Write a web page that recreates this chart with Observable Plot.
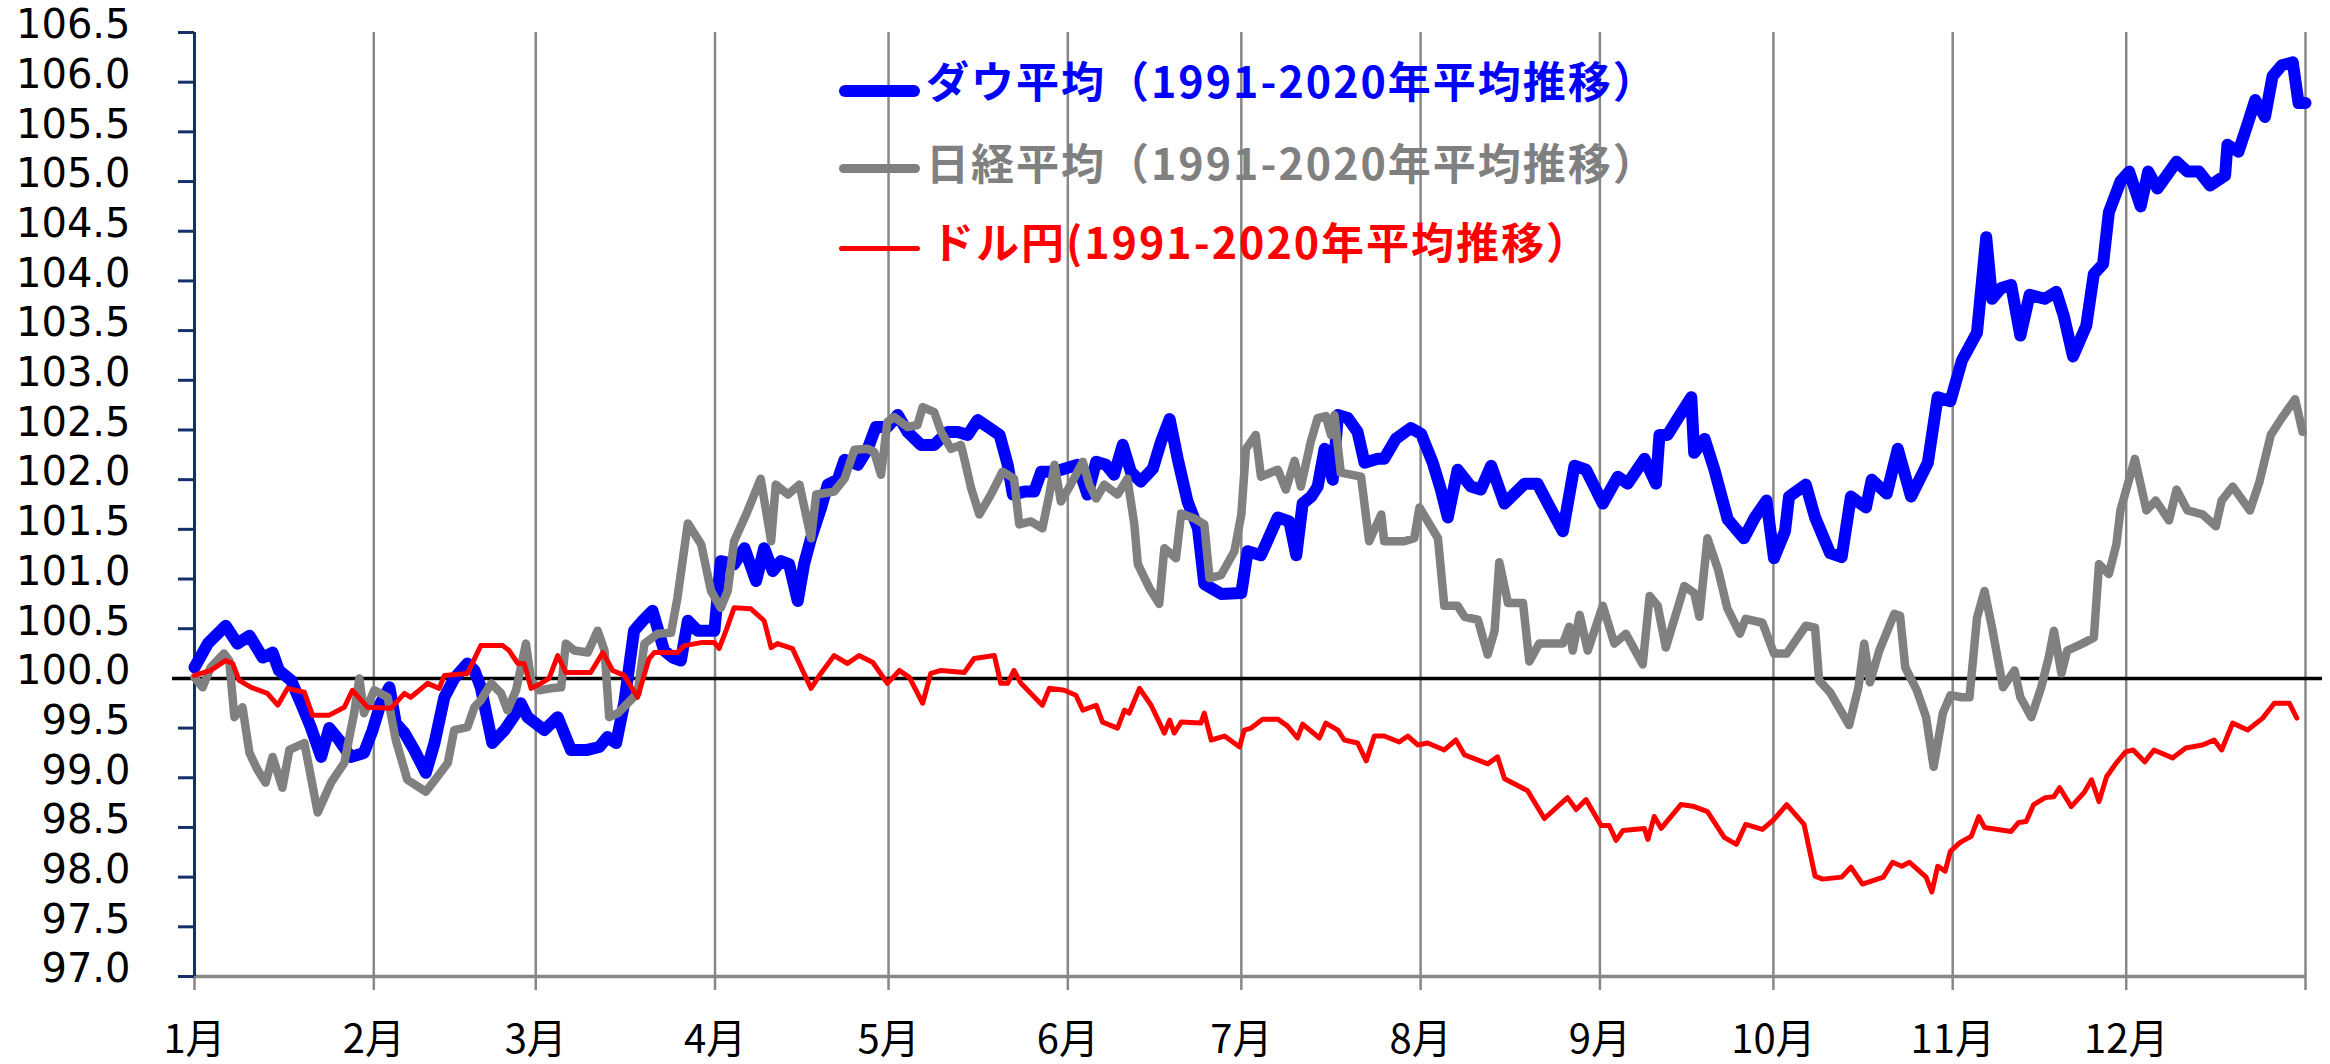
<!DOCTYPE html>
<html><head><meta charset="utf-8">
<script src="https://cdn.jsdelivr.net/npm/d3@7"></script>
<script src="https://cdn.jsdelivr.net/npm/@observablehq/plot@0.6"></script>
<style>
body{margin:0;background:#fff;}
#wrap{position:relative;width:2330px;height:1064px;overflow:hidden;background:#fff;}
.leg{position:absolute;font-family:"Noto Sans CJK JP";font-weight:bold;font-size:43px;line-height:43px;letter-spacing:2px;white-space:nowrap;}
.sw{position:absolute;border-radius:7px;}
</style></head><body>
<div id="wrap"></div>
<script>
// ---- data (x = days since 1 Jan, y = index, 1 Jan = 100) ----
const monthTicks = [0,31,59,90,120,151,181,212,243,273,304,334,365];
const monthLabels = ["1月","2月","3月","4月","5月","6月","7月","8月","9月","10月","11月","12月",""];
const yTicks = [97,97.5,98,98.5,99,99.5,100,100.5,101,101.5,102,102.5,103,103.5,104,104.5,105,105.5,106,106.5];
const seriesNames = ["ダウ平均（1991-2020年平均推移）","日経平均（1991-2020年平均推移）","ドル円(1991-2020年平均推移）"];
const seriesColors = ["#0000ff","#808080","#ff0000"];

const dowDays = [0,2.3,5.4,7.4,9.5,11.8,13.5,14.6,16.7,18.4,20.1,21.9,23.3,25.0,27.0,29.3,30.8,32.2,33.7,34.8,36.3,38.0,40.0,41.5,43.2,44.9,47.2,48.4,49.5,51.5,53.6,55.6,56.4,57.6,60.5,62.8,65.1,67.9,70.0,71.4,72.9,74.3,76.0,77.5,79.2,81.2,82.7,84.1,85.3,87.0,89.9,91.0,93.3,95.1,97.1,98.5,100.0,101.4,102.8,104.3,105.4,106.6,108.3,109.5,111.2,112.4,114.7,116.4,117.8,119.8,121.6,123.3,125.6,127.9,130.2,132.0,133.7,135.4,137.7,139.2,140.6,141.5,143.5,145.2,146.4,148.7,150.4,152.7,154.4,155.9,157.6,159.0,160.5,161.9,163.6,165.7,167.1,168.6,170.0,171.7,173.5,174.6,177.5,181.0,182.1,184.4,187.3,189.3,190.5,191.6,193.1,194.2,195.4,196.8,197.7,199.4,201.1,202.3,204.6,205.7,207.7,210.3,212.1,214.1,215.5,216.7,218.4,220.7,222.4,224.2,226.5,230.0,232.2,234.0,236.6,238.6,240.6,243.5,246.1,247.8,250.7,252.7,253.3,254.7,256.5,258.8,259.3,261.1,262.8,265.1,267.9,269.8,271.8,273.1,275.0,275.7,278.6,280.2,282.8,284.8,286.4,289.0,290.0,292.6,294.5,296.8,299.7,301.4,303.6,305.6,308.2,309.8,310.8,312.4,314.1,315.7,317.3,319.9,321.9,323.2,324.8,327.1,328.4,330.0,331.0,333.0,334.5,336.5,337.8,339.4,342.7,344.6,346.6,348.5,351.1,351.5,353.4,355.0,356.3,358.0,359.3,360.9,362.8,363.8,365];
const dowValues = [100.11,100.35,100.53,100.35,100.43,100.21,100.26,100.08,99.98,99.75,99.51,99.21,99.50,99.38,99.21,99.25,99.48,99.75,99.91,99.55,99.45,99.28,99.05,99.35,99.81,100.0,100.15,100.08,99.91,99.35,99.48,99.65,99.75,99.61,99.48,99.61,99.28,99.28,99.31,99.41,99.35,99.75,100.48,100.58,100.68,100.28,100.21,100.18,100.58,100.48,100.48,101.18,101.15,101.31,100.98,101.31,101.08,101.18,101.15,100.78,101.15,101.41,101.71,101.95,102.0,102.2,102.15,102.31,102.53,102.53,102.65,102.48,102.35,102.35,102.48,102.48,102.45,102.60,102.51,102.45,102.15,101.85,101.88,101.88,102.08,102.08,102.11,102.15,101.85,102.18,102.15,102.05,102.35,102.08,101.98,102.11,102.38,102.61,102.21,101.78,101.51,100.95,100.85,100.86,101.28,101.24,101.62,101.58,101.24,101.76,101.83,101.93,102.31,102.0,102.65,102.62,102.48,102.17,102.21,102.21,102.41,102.52,102.46,102.17,101.90,101.62,102.10,101.93,101.90,102.14,101.76,101.96,101.96,101.76,101.48,102.14,102.10,101.76,102.03,101.96,102.21,101.96,102.45,102.45,102.62,102.83,102.27,102.41,102.10,101.6,101.41,101.62,101.79,101.21,101.48,101.83,101.95,101.62,101.26,101.22,101.83,101.72,102.0,101.86,102.31,101.83,102.17,102.83,102.79,103.20,103.48,104.44,103.82,103.93,103.96,103.45,103.86,103.82,103.89,103.65,103.24,103.55,104.07,104.17,104.69,105.0,105.10,104.75,105.10,104.93,105.20,105.10,105.10,104.96,105.06,105.37,105.30,105.58,105.82,105.65,106.06,106.17,106.20,105.79,105.79];

const nikkeiDays = [0,1.4,2.8,5.1,6.0,6.9,8.3,9.5,10.9,12.3,13.5,15.2,16.4,19.0,21.3,23.6,25.9,27.6,28.5,29.3,31.1,33.4,34.8,36.8,40.0,42.0,43.8,44.9,47.2,48.4,49.5,51.3,53.0,54.1,55.6,57.3,58.2,59.6,61.6,63.4,64.2,65.7,68.0,69.7,70.9,71.7,73.2,74.9,76.6,77.8,80.1,82.4,83.5,85.3,87.6,89.3,91.0,92.2,93.3,95.6,97.9,99.7,100.5,102.6,104.6,106.6,107.5,110.6,112.4,114.1,116.4,117.5,118.7,119.8,121.0,123.3,125.0,125.9,127.9,129.1,130.8,132.5,133.1,134.3,135.7,137.7,139.7,141.7,142.6,144.6,146.6,147.8,148.7,149.8,151.5,153.6,154.7,155.9,157.3,159.6,161.3,162.5,163.1,165.1,166.8,167.7,169.7,170.6,172.9,174.6,175.5,177.5,179.8,181.0,181.8,183.5,184.4,187.3,188.7,190.2,191.3,193.0,194.2,195.6,196.5,197.1,198.2,201.7,203.1,205.2,205.7,209.2,210.9,211.8,215.0,216.1,218.4,219.6,221.9,223.6,224.8,225.6,227.1,229.7,230.8,232.5,236.6,237.7,238.3,239.5,240.9,243.5,245.5,247.5,250.4,251.6,253.0,254.4,257.6,259.3,260.2,261.6,263.4,265.0,267.2,268.2,271.1,273.1,275.3,278.6,280.2,280.9,282.8,286.1,287.7,288.7,289.7,291.3,293.9,294.9,295.8,297.8,299.4,300.7,302.3,303.6,305.6,306.9,308.2,309.5,310.8,312.7,314.7,315.7,317.6,319.3,320.6,321.5,322.8,323.8,326.4,328.4,329.3,331.0,332.3,333.0,335.5,337.5,339.1,341.4,342.7,344.6,347.2,349.5,350.5,352.4,355.4,357.0,359.0,360.9,363.2,364.5];
const nikkeiValues = [100.01,99.91,100.11,100.25,100.18,99.61,99.71,99.25,99.08,98.95,99.21,98.90,99.28,99.35,98.65,98.95,99.15,99.65,100.0,99.65,99.88,99.81,99.38,98.98,98.86,99.01,99.15,99.48,99.51,99.71,99.78,99.95,99.85,99.68,99.88,100.35,99.98,99.88,99.90,99.91,100.35,100.28,100.26,100.48,100.28,99.61,99.65,99.75,99.85,100.35,100.45,100.46,100.81,101.56,101.35,100.88,100.71,100.88,101.38,101.68,102.01,101.38,101.95,101.85,101.95,101.41,101.85,101.88,102.01,102.30,102.31,102.28,102.05,102.58,102.63,102.53,102.55,102.73,102.68,102.48,102.31,102.35,102.21,101.91,101.65,101.85,102.08,102.01,101.55,101.58,101.51,101.85,102.15,101.78,101.95,102.18,101.95,101.81,101.95,101.85,102.01,101.55,101.15,100.91,100.75,101.31,101.21,101.66,101.61,101.55,101.01,101.04,101.28,101.65,102.31,102.45,102.03,102.10,101.90,102.19,101.93,102.38,102.62,102.64,102.45,102.65,102.07,102.03,101.38,101.65,101.38,101.38,101.41,101.72,101.41,100.73,100.73,100.62,100.59,100.24,100.48,101.17,100.76,100.76,100.17,100.35,100.35,100.52,100.28,100.64,100.28,100.73,100.35,100.45,100.14,100.83,100.73,100.31,100.93,100.86,100.62,101.41,101.1,100.71,100.45,100.60,100.56,100.25,100.25,100.53,100.51,99.98,99.86,99.53,99.91,100.35,99.96,100.28,100.65,100.63,100.11,99.88,99.61,99.11,99.65,99.83,99.81,99.81,100.61,100.88,100.51,99.91,100.08,99.81,99.61,99.91,100.21,100.48,100.05,100.28,100.35,100.41,101.15,101.05,101.35,101.69,102.21,101.69,101.79,101.59,101.90,101.69,101.65,101.53,101.79,101.93,101.69,101.97,102.45,102.62,102.81,102.48];

const usdjpyDays = [0,2.8,5.4,6.6,7.7,9.8,12.6,14.4,16.1,19.0,20.4,23.3,25.9,27.3,29.9,34.0,36.3,37.4,40.3,42.3,43.2,47.2,49.5,53.3,54.4,55.9,57.0,58.2,59.9,61.3,62.8,64.2,68.5,70.6,72.3,74.3,76.6,78.6,79.5,83.5,84.7,87.6,89.9,90.7,91.9,93.3,96.2,98.5,99.7,100.8,103.4,104.9,106.6,108.3,110.6,112.9,114.9,117.3,119.8,121.9,123.6,125.9,127.3,129.1,133.1,134.8,138.3,139.4,140.6,141.7,142.9,146.6,147.8,150.4,152.4,153.6,155.9,157.0,159.6,160.8,161.6,163.4,165.4,167.7,168.6,169.4,170.6,174.0,174.6,175.8,178.1,180.7,181.5,182.7,184.7,187.3,189.0,190.7,191.6,194.5,195.6,197.7,198.8,201.1,202.6,204.0,205.7,208.3,209.8,211.5,213.2,216.1,218.1,219.6,223.6,225.3,226.5,230.5,233.4,237.4,238.9,240.6,243.2,244.6,245.8,247.0,250.7,251.3,252.4,253.6,257.0,259.3,261.6,264.5,266.6,268.2,271.1,273.1,275.3,278.3,280.2,281.5,284.8,286.4,288.4,292.0,293.6,295.2,296.5,299.4,300.4,301.4,302.7,303.6,305.3,307.2,308.5,309.5,314.1,315.4,316.7,318.0,320.0,321.5,322.5,324.5,326.7,328.0,329.3,330.6,332.3,333.9,335.2,337.2,338.8,342.0,344.3,347.2,349.2,350.5,352.4,355.0,357.6,359.6,362.2,363.5];
const usdjpyValues = [100.03,100.08,100.18,100.15,99.98,99.91,99.85,99.73,99.90,99.86,99.63,99.63,99.71,99.88,99.71,99.70,99.85,99.81,99.95,99.90,100.03,100.05,100.33,100.33,100.28,100.15,100.15,99.90,99.95,100.0,100.23,100.06,100.06,100.26,100.08,100.03,99.81,100.2,100.26,100.26,100.33,100.36,100.36,100.30,100.48,100.71,100.70,100.58,100.31,100.35,100.30,100.11,99.90,100.05,100.23,100.15,100.23,100.16,99.95,100.08,100.01,99.75,100.05,100.08,100.06,100.20,100.23,99.95,99.95,100.08,99.95,99.73,99.90,99.88,99.83,99.68,99.73,99.56,99.50,99.68,99.65,99.90,99.73,99.45,99.58,99.45,99.56,99.55,99.65,99.38,99.42,99.31,99.48,99.50,99.59,99.59,99.52,99.40,99.54,99.40,99.55,99.48,99.38,99.35,99.17,99.42,99.42,99.36,99.42,99.33,99.35,99.28,99.38,99.23,99.14,99.21,98.99,98.87,98.59,98.80,98.68,98.78,98.52,98.52,98.37,98.47,98.49,98.38,98.61,98.49,98.73,98.71,98.66,98.40,98.33,98.53,98.48,98.58,98.73,98.53,98.01,97.98,98.0,98.10,97.93,98.0,98.15,98.11,98.15,98.0,97.85,98.11,98.06,98.26,98.35,98.41,98.61,98.50,98.46,98.55,98.56,98.73,98.80,98.81,98.90,98.71,98.85,98.98,98.76,99.01,99.15,99.26,99.28,99.16,99.28,99.20,99.30,99.33,99.38,99.28,99.55,99.48,99.60,99.75,99.75,99.60];

// ---- build tables ----
const toRows = (days, vals) => days.map((d, i) => ({d, v: vals[i]}));
const dow = toRows(dowDays, dowValues);
const nikkei = toRows(nikkeiDays, nikkeiValues);
const usdjpy = toRows(usdjpyDays, usdjpyValues);

const navy = "#13306b";
const grid = "#878787";

const chart = Plot.plot({
  width: 2330,
  height: 1064,
  marginLeft: 194,
  marginRight: 25,
  marginTop: 32,
  marginBottom: 88,
  style: {fontFamily: "DejaVu Sans", background: "#fff", overflow: "visible"},
  x: {domain: [0, 365]},
  y: {domain: [97, 106.5]},
  marks: [
    Plot.ruleX(monthTicks.slice(1), {stroke: grid, strokeWidth: 2.5}),
    Plot.ruleY([97], {stroke: grid, strokeWidth: 3.5}),
    Plot.axisX({ticks: monthTicks, tickFormat: (d, i) => monthLabels[i], tickSize: 14, tickPadding: 34,
      stroke: grid, strokeWidth: 2.5, fill: "#000", fontSize: 40, fontFamily: "Noto Sans CJK JP", label: null}),
    Plot.ruleX([0], {stroke: navy, strokeWidth: 3}),
    Plot.axisY({ticks: yTicks, tickSize: 16, fill: "none", stroke: navy, strokeWidth: 3, label: null}),
    Plot.axisY({ticks: yTicks, tickFormat: d => d.toFixed(1), tickSize: 16, tickPadding: 48, stroke: "none",
      fill: "#000", fontSize: 40, fontFamily: "DejaVu Sans", dy: -7, label: null}),
    Plot.ruleY([100], {stroke: "#000", strokeWidth: 3.5, insetLeft: -22, insetRight: -17}),
    Plot.line(dow, {x: "d", y: "v", stroke: seriesColors[0], strokeWidth: 12, strokeLinejoin: "round", strokeLinecap: "round"}),
    Plot.line(nikkei, {x: "d", y: "v", stroke: seriesColors[1], strokeWidth: 8.5, strokeLinejoin: "round", strokeLinecap: "round"}),
    Plot.line(usdjpy, {x: "d", y: "v", stroke: seriesColors[2], strokeWidth: 5, strokeLinejoin: "round", strokeLinecap: "round"})
  ]
});

const wrap = document.getElementById("wrap");
wrap.appendChild(chart);

// legend (overlaid, top of plot area)
const legendItems = [
  {sw: {left: 839, top: 85, width: 81, height: 12}, text: {left: 926, top: 58}},
  {sw: {left: 839, top: 164, width: 81, height: 9}, text: {left: 926, top: 140}},
  {sw: {left: 839, top: 246, width: 81, height: 5}, text: {left: 931, top: 219}}
];
legendItems.forEach((it, i) => {
  const s = document.createElement("div");
  s.className = "sw";
  Object.assign(s.style, {left: it.sw.left + "px", top: it.sw.top + "px", width: it.sw.width + "px",
    height: it.sw.height + "px", background: seriesColors[i], borderRadius: (it.sw.height / 2) + "px"});
  wrap.appendChild(s);
  const t = document.createElement("div");
  t.className = "leg";
  t.textContent = seriesNames[i];
  Object.assign(t.style, {left: it.text.left + "px", top: it.text.top + "px", color: seriesColors[i]});
  wrap.appendChild(t);
});
</script>
</body></html>
